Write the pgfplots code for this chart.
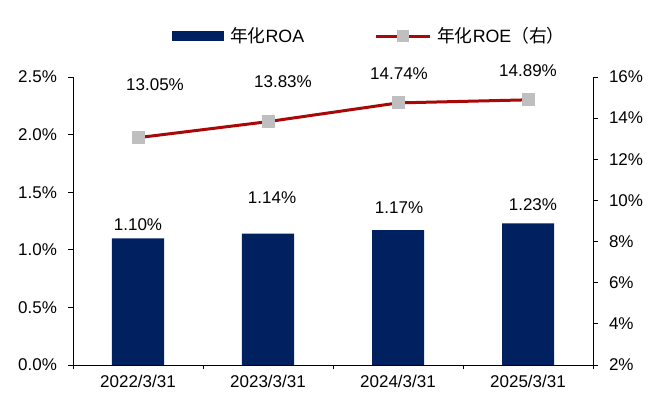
\documentclass[border=0pt]{standalone}
\usepackage{pgfplots}
\pgfplotsset{compat=1.18}
\usepackage{fontspec}
\setmainfont{Liberation Sans}
\newfontfamily\cjk{Noto Sans CJK SC}
\definecolor{navy}{RGB}{0,32,96}
\definecolor{dred}{RGB}{170,8,8}
\definecolor{mgray}{RGB}{191,191,191}
\newcommand{\ff}{\fontsize{17}{20}\selectfont}
\newcommand{\fl}{\fontsize{17.8}{20}\selectfont}
\pgfplotsset{
  roe legend/.style={legend image code/.code={\draw[mark repeat=2,mark phase=2,##1] plot coordinates {(0pt,0pt) (27pt,0pt) (54pt,0pt)};}},
  roa legend/.style={legend image code/.code={\fill[navy] (0pt,-5pt) rectangle (52pt,5pt);}},
}
\begin{document}
\begin{tikzpicture}[font=\ff]
\begin{axis}[
  scale only axis, width=520pt, height=288pt, at={(0,0)}, anchor=south west,
  xmin=-0.5, xmax=3.5, ymin=0, ymax=2.5,
  axis y line*=left, axis x line*=bottom,
  axis line style={black, line width=0.8pt},
  tick style={black, line width=0.8pt},
  tick align=outside, major tick length=4.5pt,
  xtick={-0.5,0.5,1.5,2.5,3.5},
  x tick label as interval,
  xticklabels={2022/3/31,2023/3/31,2024/3/31,2025/3/31},
  ytick={0,0.5,1,1.5,2,2.5},
  yticklabels={0.0\%,0.5\%,1.0\%,1.5\%,2.0\%,2.5\%},
  /pgf/number format/assume math mode=true,
  tick label style={font=\ff},
  xticklabel style={yshift=-2pt},
  yticklabel style={xshift=-8pt},
  clip=false,
  legend style={at={(0.19,1.142)}, anchor=west, draw=none, fill=none,
    legend columns=2, font=\fl, inner sep=0pt,
    /tikz/every odd column/.append style={column sep=4pt},
    /tikz/every even column/.append style={column sep=68pt}},
]
\addplot[ybar, bar width=52pt, fill=navy, draw=none, roa legend]
  coordinates {(0,1.10) (1,1.14) (2,1.17) (3,1.23)};
\addlegendentry{{\cjk 年化}ROA}
\addlegendimage{dred, line width=3pt, mark=square*, mark size=5.5pt,
  mark options={fill=mgray, draw=mgray, line width=0pt}, roe legend}
\addlegendentry{{\cjk 年化}ROE{\cjk （右）}}
\node at (axis cs:0,1.215) {1.10\%};
\node at (axis cs:1.031,1.450) {1.14\%};
\node at (axis cs:2.008,1.363) {1.17\%};
\node at (axis cs:3.038,1.389) {1.23\%};
\end{axis}
\begin{axis}[
  scale only axis, width=520pt, height=288pt, at={(0,0)}, anchor=south west,
  xmin=-0.5, xmax=3.5, ymin=2, ymax=16,
  axis y line*=right, axis x line=none,
  axis line style={black, line width=0.8pt},
  tick style={black, line width=0.8pt},
  tick align=outside, major tick length=4.5pt,
  ytick={2,4,6,8,10,12,14,16},
  yticklabels={2\%,4\%,6\%,8\%,10\%,12\%,14\%,16\%},
  /pgf/number format/assume math mode=true,
  tick label style={font=\ff},
  yticklabel style={xshift=8pt},
  clip=false,
]
\addplot[dred, line width=3pt, mark=square*, mark size=6pt,
  mark options={fill=mgray, draw=mgray, line width=0pt}]
  coordinates {(0,13.05) (1,13.83) (2,14.74) (3,14.89)};
\node at (axis cs:0.131,15.61) {13.05\%};
\node at (axis cs:1.115,15.76) {13.83\%};
\node at (axis cs:2.008,16.15) {14.74\%};
\node at (axis cs:3.0,16.29) {14.89\%};
\end{axis}
\pgfresetboundingbox
\useasboundingbox (-73pt,-36pt) rectangle (591pt,365pt);
\end{tikzpicture}
\end{document}
